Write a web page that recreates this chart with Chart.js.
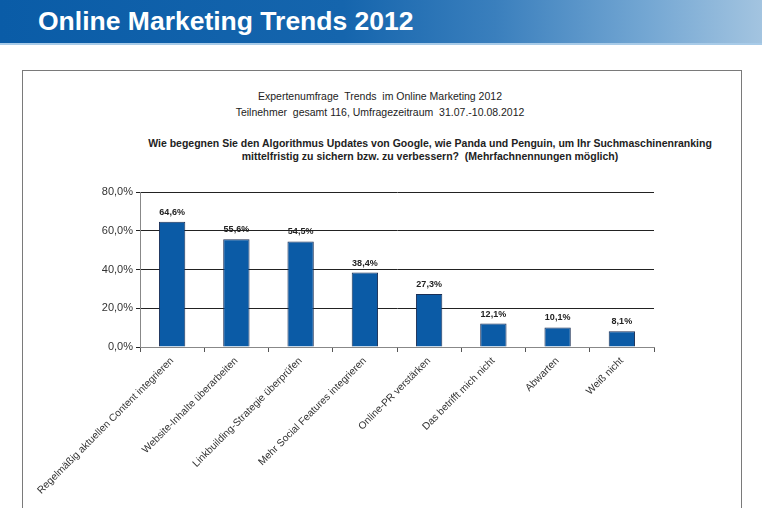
<!DOCTYPE html>
<html>
<head>
<meta charset="utf-8">
<script src="https://cdn.jsdelivr.net/npm/chart.js@4"></script>
<style>
  body { margin: 0; width: 762px; height: 508px; overflow: hidden; background: #fff; font-family: "Liberation Sans", Arial, sans-serif; }
  #head { position: absolute; left: 0; top: 0; width: 762px; height: 43px;
    background: linear-gradient(to right, #0a5ca7 0%, #1565ad 45%, #3a7fbd 65%, #74a7d3 85%, #a3c4e0 100%);
    border-bottom: 2px solid #a8cbe8; }
  #head h1 { margin: 0; position: absolute; left: 38px; top: 6px; color: #fff;
    font: bold 26.5px "Liberation Sans", Arial, sans-serif; }
  #frame { position: absolute; left: 22px; top: 70px; width: 718px; height: 460px; border: 1.5px solid #7a7a7a; }
  .t { position: absolute; left: 0; width: 760px; text-align: center; font-size: 10.5px; color: #222; }
  .q { font-weight: bold; }
  canvas { position: absolute; left: 0; top: 0; }
</style>
</head>
<body>
<div id="head"><h1>Online Marketing Trends 2012</h1></div>
<div id="frame"></div>
<div class="t" style="top:90px">Expertenumfrage&nbsp; Trends&nbsp; im Online Marketing 2012</div>
<div class="t" style="top:106px">Teilnehmer&nbsp; gesamt 116, Umfragezeitraum&nbsp; 31.07.-10.08.2012</div>
<div class="t q" style="top:137px; left:70px; width:720px">Wie begegnen Sie den Algorithmus Updates von Google, wie Panda und Penguin, um Ihr Suchmaschinenranking</div>
<div class="t q" style="top:150px; left:70px; width:720px">mittelfristig zu sichern bzw. zu verbessern?&nbsp; (Mehrfachnennungen möglich)</div>
<canvas id="c" width="762" height="508"></canvas>
<script>
var categories = [
  'Regelmäßig aktuellen Content integrieren',
  'Website-Inhalte überarbeiten',
  'Linkbuilding-Strategie überprüfen',
  'Mehr Social Features integrieren',
  'Online-PR verstärken',
  'Das betrifft mich nicht',
  'Abwarten',
  'Weiß nicht'
];
var values = [64.6, 55.6, 54.5, 38.4, 27.3, 12.1, 10.1, 8.1];

function pct(v) { return v.toFixed(1).replace('.', ',') + '%'; }

var barLabels = {
  id: 'barLabels',
  afterDatasetsDraw: function(chart) {
    var ctx = chart.ctx;
    var meta = chart.getDatasetMeta(0);
    ctx.save();
    ctx.font = 'bold 9px "Liberation Sans", Arial, sans-serif';
    ctx.fillStyle = '#222';
    ctx.textAlign = 'center';
    ctx.textBaseline = 'bottom';
    meta.data.forEach(function(bar, i) {
      ctx.fillText(pct(values[i]), bar.x, bar.y - 5);
    });
    ctx.restore();
  }
};

var ctx = document.getElementById('c').getContext('2d');
new Chart(ctx, {
  type: 'bar',
  data: {
    labels: categories,
    datasets: [{
      data: values,
      backgroundColor: '#0b5ba6',
      borderColor: '#1b2f55',
      borderWidth: 1,
      categoryPercentage: 1,
      barPercentage: 0.41
    }]
  },
  options: {
    responsive: false,
    animation: false,
    layout: { padding: { top: 192, right: 108, left: 0, bottom: 0 } },
    plugins: { legend: { display: false }, tooltip: { enabled: false } },
    scales: {
      x: {
        grid: { display: true, drawOnChartArea: false, drawTicks: true, tickLength: 5, color: '#555', offset: true },
        border: { color: '#888' },
        ticks: { minRotation: 45, maxRotation: 45, autoSkip: false, color: '#333',
          font: { family: '"Liberation Sans", Arial, sans-serif', size: 10.2 }, padding: 3 },
        afterFit: function(s) { s.height = 161; }
      },
      y: {
        min: 0, max: 80,
        ticks: { stepSize: 20, color: '#333', padding: 3,
          font: { family: '"Liberation Sans", Arial, sans-serif', size: 11 },
          callback: function(v) { return pct(v); } },
        grid: { color: '#222', tickLength: 4, lineWidth: 1 },
        border: { color: '#888' },
        afterFit: function(s) { s.width = 140; }
      }
    }
  },
  plugins: [barLabels]
});
</script>
</body>
</html>
